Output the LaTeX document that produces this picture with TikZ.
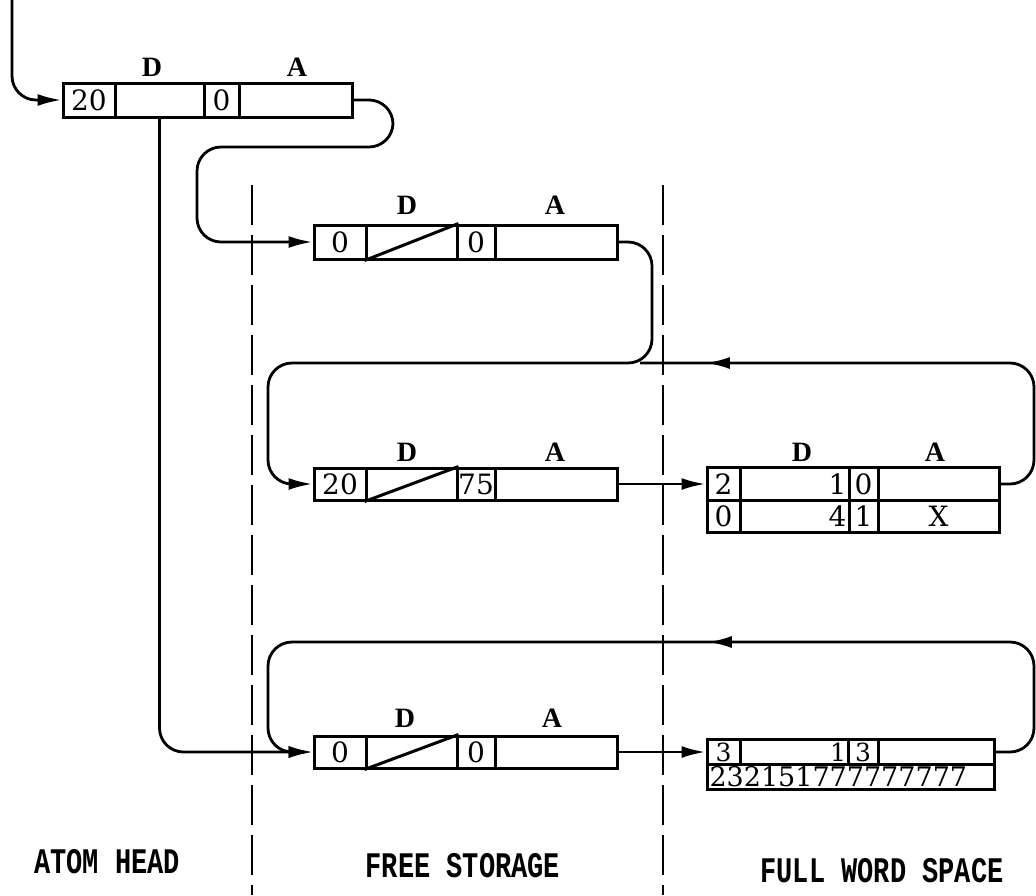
\documentclass[tikz,border=0pt]{standalone}
\usepackage{fontspec}
\usetikzlibrary{arrows.meta,decorations.markings}
\newfontfamily\numfont{DejaVu Serif}
\newfontfamily\tagfont{Liberation Serif}
\newfontfamily\capfont[FakeStretch=0.75]{Liberation Mono}

\begin{document}
\begin{tikzpicture}[
  x=0.5pt, y=-0.5pt,
  fld/.style={draw, line width=1.5pt, inner sep=0pt, minimum height=17pt,
              font=\numfont\fontsize{14}{14}\selectfont},
  tag/.style={font=\tagfont\bfseries\fontsize{14}{14}\selectfont},
  zonecap/.style={font=\capfont\bfseries\fontsize{18}{18}\selectfont},
  arr/.style={-{Latex[length=12pt,width=6pt]}, line width=1.4pt, rounded corners=12pt},
  lnk/.style={line width=1.4pt, rounded corners=12pt},
  midarr/.style={postaction={decorate, decoration={markings,
      mark=at position #1 with {\arrow{Latex[length=12pt,width=6pt]}}}}},
  divider/.style={line width=1.1pt, dash pattern=on 20pt off 5pt}
]
\useasboundingbox (0,0) rectangle (1036,895);

% section dividers
\draw[divider] (252,185) -- (252,895);
\draw[divider] (663,185) -- (663,895);

% atom head
\node[fld, minimum width=26pt]   (hn) at (89,100)    {20};
\node[fld, minimum width=44.5pt] (hd) at (159.5,100) {};
\node[fld, minimum width=17.5pt] (hk) at (221.5,100) {0};
\node[fld, minimum width=56.5pt] (ha) at (295.5,100) {};
\node[tag] (hD) at (152,67) {D};
\node[tag] (hA) at (297,67) {A};

% free storage words
\node[fld, minimum width=26pt]   (f1n) at (340,242)   {0};
\node[fld, minimum width=45.5pt] (f1d) at (411.5,242) {};
\node[fld, minimum width=19pt]   (f1k) at (476,242)   {0};
\node[fld, minimum width=61pt]   (f1a) at (556,242)   {};
\node[tag] (f1D) at (407,205) {D};
\node[tag] (f1A) at (555,205) {A};
\draw[line width=1.5pt] (f1d.south west) -- (f1d.north east);

\node[fld, minimum width=26pt,   minimum height=16pt] (f2n) at (340,484)   {20};
\node[fld, minimum width=45.5pt, minimum height=16pt] (f2d) at (411.5,484) {};
\node[fld, minimum width=19pt,   minimum height=16pt] (f2k) at (476,484)   {75};
\node[fld, minimum width=61pt,   minimum height=16pt] (f2a) at (556,484)   {};
\node[tag] (f2D) at (407,452) {D};
\node[tag] (f2A) at (555,452) {A};
\draw[line width=1.5pt] (f2d.south west) -- (f2d.north east);

\node[fld, minimum width=26pt,   minimum height=16pt] (f3n) at (340,752)   {0};
\node[fld, minimum width=45.5pt, minimum height=16pt] (f3d) at (411.5,752) {};
\node[fld, minimum width=19pt,   minimum height=16pt] (f3k) at (476,752)   {0};
\node[fld, minimum width=61pt,   minimum height=16pt] (f3a) at (556,752)   {};
\node[tag] (f3D) at (405,718) {D};
\node[tag] (f3A) at (552,718) {A};
\draw[line width=1.5pt] (f3d.south west) -- (f3d.north east);

% full word space
\node[fld, minimum width=16.5pt, minimum height=16.5pt] (w1n) at (723.5,484) {2};
\node[fld, minimum width=54.5pt, minimum height=16.5pt, text width=52pt, align=right] (w1d) at (794.5,484) {1};
\node[fld, minimum width=14.5pt, minimum height=16.5pt] (w1k) at (863.5,484) {0};
\node[fld, minimum width=60.5pt, minimum height=16.5pt] (w1a) at (938.5,484) {};
\node[fld, minimum width=16.5pt, minimum height=15.75pt] (w1n2) at (723.5,516.25) {0};
\node[fld, minimum width=54.5pt, minimum height=15.75pt, text width=52pt, align=right] (w1d2) at (794.5,516.25) {4};
\node[fld, minimum width=14.5pt, minimum height=15.75pt] (w1k2) at (863.5,516.25) {1};
\node[fld, minimum width=60.5pt, minimum height=15.75pt] (w1a2) at (938.5,516.25) {X};
\node[tag] (w1D) at (802,452) {D};
\node[tag] (w1A) at (935,452) {A};

\tikzset{fld/.append style={font=\numfont\fontsize{12.5}{12.5}\selectfont}}
\node[fld, minimum width=16.5pt, minimum height=12.5pt] (w2n) at (723.5,752) {3};
\node[fld, minimum width=54pt,   minimum height=12.5pt, text width=52pt, align=right] (w2d) at (794,752) {1};
\node[fld, minimum width=15pt,   minimum height=12.5pt] (w2k) at (863,752) {3};
\node[fld, minimum width=58pt,   minimum height=12.5pt] (w2a) at (936,752) {};
\node[fld, minimum width=143.5pt, minimum height=12.25pt, text width=141pt, align=left,
      font=\numfont\fontsize{13.5}{12}\selectfont] (w2x) at (850.5,776.75) {232151777777777};

% region captions
\node[zonecap] (atom) at (107,862) {ATOM HEAD};
\node[zonecap] (free) at (463,866) {FREE STORAGE};
\node[zonecap] (full) at (882,871) {FULL WORD SPACE};

% pointers
\coordinate (in) at (12,0);
\coordinate (j1) at (640,363);
\draw[arr] (in) |- (hn.west);
\draw[arr] (ha.east) -- (393,100) -- (393,147) -- (197,147) -- (197,242) -- (f1n.west);
\draw[arr] (hd.south) |- (f3n.west);
\draw[arr] (f1a.east) -- (652,242) -- (652,363) -- (268,363) -- (268,484) -- (f2n.west);
\draw[lnk, midarr=231pt] (w1a.east) -- (1034,484) -- (1034,363) -- (j1);
\draw[arr] (f2a.east) -- (w1n.west);
\draw[arr, midarr=227pt] (w2a.east) -- (1034,752) -- (1034,642) -- (268,642) -- (268,752) -- (f3n.west);
\draw[arr] (f3a.east) -- (w2n.west);
\end{tikzpicture}
\end{document}
